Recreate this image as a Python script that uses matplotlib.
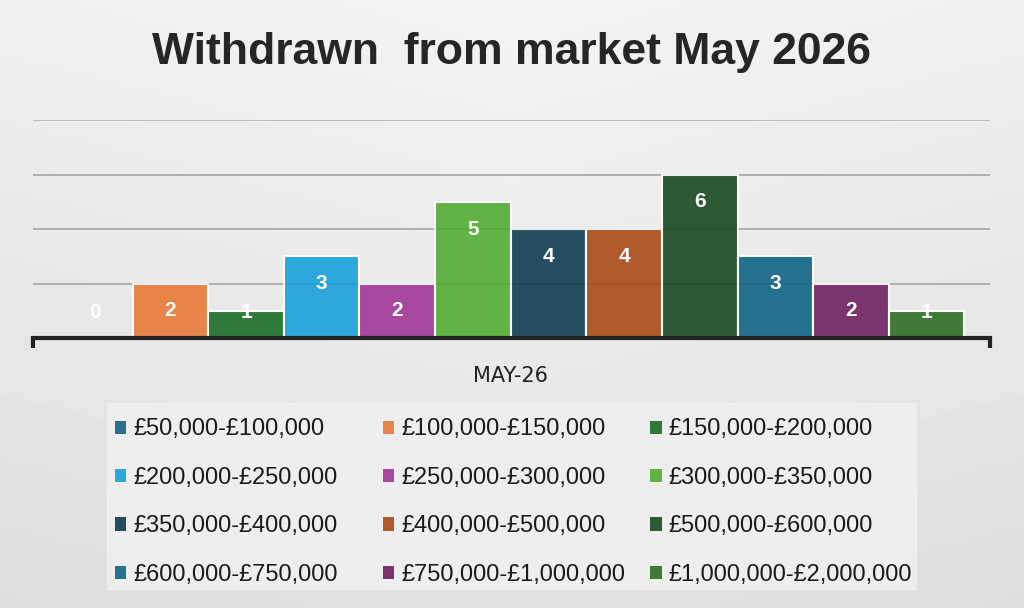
import matplotlib
matplotlib.use("Agg")
import matplotlib.pyplot as plt
from matplotlib.patches import Patch, Rectangle
import numpy as np

title = "Withdrawn  from market May 2026"
category = "MAY-26"
bands = ["£50,000-£100,000", "£100,000-£150,000", "£150,000-£200,000",
         "£200,000-£250,000", "£250,000-£300,000", "£300,000-£350,000",
         "£350,000-£400,000", "£400,000-£500,000", "£500,000-£600,000",
         "£600,000-£750,000", "£750,000-£1,000,000", "£1,000,000-£2,000,000"]
counts = [0, 2, 1, 3, 2, 5, 4, 4, 6, 3, 2, 1]
colors = ["#2a6e8e", "#e8834a", "#2f7a3a", "#2ea8dc", "#a8479f", "#62b345",
          "#264e63", "#b05a2b", "#2d5a35", "#24728f", "#7a356e", "#3f7a37"]

sans = ["Liberation Sans", "DejaVu Sans"]

fig = plt.figure(figsize=(10.24, 6.08), dpi=100)

# soft grey background
bg = fig.add_axes([0, 0, 1, 1], zorder=-10)
yy, xx = np.mgrid[0:1:200j, 0:1:300j]
shade = 0.955 - 0.07 * yy - 0.03 * np.abs(xx - 0.5)
bg.imshow(shade, cmap="gray", vmin=0, vmax=1, aspect="auto", extent=[0, 1, 0, 1])
bg.axis("off")

fig.text(0.5, 0.913, title, ha="center", va="center", fontsize=32,
         fontweight="bold", color="#262626", family=sans)

ax = fig.add_axes([0.032, 0.444, 0.935, 0.3586])
ax.set_facecolor("none")
x = np.arange(len(counts))
ax.bar(x, counts, width=1.0, color=colors, edgecolor="white", linewidth=1.5, zorder=2)

for i, v in enumerate(counts):
    ax.text(i, max(v - 1, 0.95), str(v), ha="center", va="center", color="white",
            fontsize=15, fontweight="bold", family=sans, zorder=4)

xmin, xmax = -0.82, 11.84
ax.set_xlim(xmin, xmax)
ax.set_ylim(0, 8)
ax.set_yticks([2, 4, 6, 8])
ax.yaxis.grid(True, color="#b5b5b5", linewidth=1.2, zorder=0)
ax.set_axisbelow(True)
for g in [2, 4, 6]:
    ax.axhline(g, color="black", alpha=0.08, linewidth=1.2, zorder=3)
ax.tick_params(axis="y", length=0, labelleft=False)

for s in ["top", "right", "left"]:
    ax.spines[s].set_visible(False)
ax.spines["bottom"].set_linewidth(3)
ax.spines["bottom"].set_color("#222222")
ax.spines["bottom"].set_zorder(5)

ax.set_xticks([5.5])
ax.set_xticklabels([category], fontsize=15, color="#222222",
                   family=["DejaVu Sans"])
ax.tick_params(axis="x", which="major", length=0, pad=20)
ax.set_xticks([xmin, xmax], minor=True)
ax.tick_params(axis="x", which="minor", length=7, width=3, color="#222222")

# legend panel
fig.patches.append(Rectangle((0.1045, 0.0296), 0.791, 0.3076, transform=fig.transFigure,
                             facecolor="#eeeeee", edgecolor="none", zorder=-5))

handles = [Patch(facecolor=c, edgecolor="none") for c in colors]
col_x = [0.1123, 0.374, 0.635]
for c in range(3):
    idx = [c, c + 3, c + 6, c + 9]
    leg = fig.legend([handles[i] for i in idx], [bands[i] for i in idx],
                     loc="upper left", bbox_to_anchor=(col_x[c], 0.3117),
                     frameon=False, borderpad=0, borderaxespad=0,
                     handlelength=0.48, handleheight=0.48, handletextpad=0.3,
                     labelspacing=1.12, prop={"family": sans, "size": 17},
                     labelcolor="#1a1a1a")

fig.savefig("out.png", dpi=100)
